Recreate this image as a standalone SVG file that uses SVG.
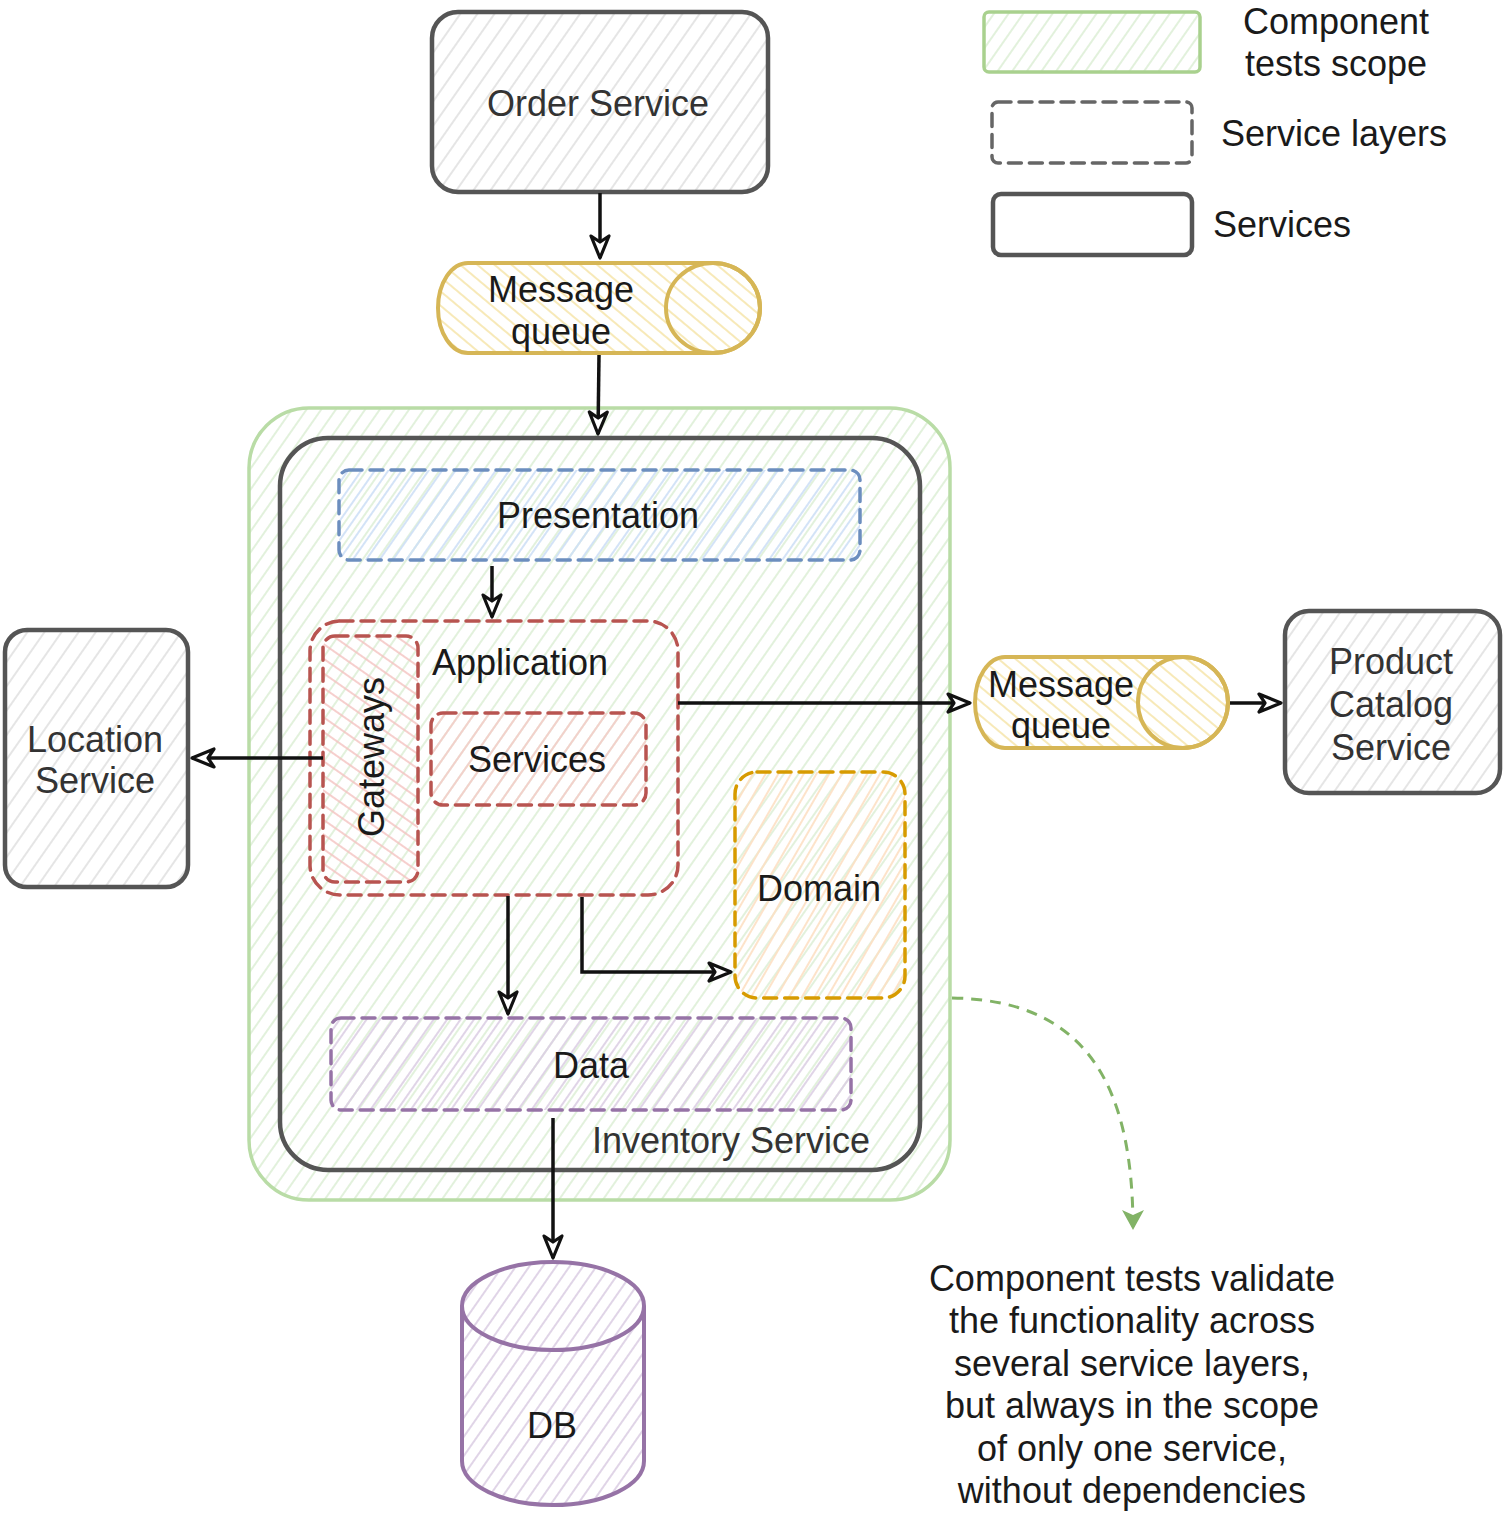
<svg xmlns="http://www.w3.org/2000/svg" width="1504" height="1517" viewBox="0 0 1504 1517">
<style>
text{font-family:"Liberation Sans",Arial,Helvetica,sans-serif;font-size:36px;fill:#1a1a1a}
.c{text-anchor:middle}
.svc{fill:url(#hGray);stroke:#555;stroke-width:4.5;stroke-linejoin:round}
.svcT{fill:#333}
.mq{fill:url(#hYellow);stroke:#d6b656;stroke-width:4}
.dash{stroke-width:3.5;stroke-dasharray:13 8;stroke-linecap:round}
.conn{fill:none;stroke:#111;stroke-width:3.5;marker-end:url(#arr)}
</style>
<defs>
<pattern id="hGray" patternUnits="userSpaceOnUse" width="14" height="14" patternTransform="rotate(35)"><line x1="7" y1="0" x2="7" y2="14" stroke="#dadada" stroke-width="1.4"/></pattern>
<pattern id="hGreen" patternUnits="userSpaceOnUse" width="12" height="12" patternTransform="rotate(35)"><line x1="6" y1="0" x2="6" y2="12" stroke="#d8ecd1" stroke-width="1.5"/></pattern>
<pattern id="hYellow" patternUnits="userSpaceOnUse" width="11" height="11" patternTransform="rotate(-50)"><line x1="5" y1="0" x2="5" y2="11" stroke="#f7e7b0" stroke-width="1.8"/></pattern>
<pattern id="hBlue" patternUnits="userSpaceOnUse" width="11" height="11" patternTransform="rotate(35)"><line x1="5" y1="0" x2="5" y2="11" stroke="#cfe0f6" stroke-width="1.8"/></pattern>
<pattern id="hPink" patternUnits="userSpaceOnUse" width="12" height="12" patternTransform="rotate(35)"><line x1="6" y1="0" x2="6" y2="12" stroke="#f6c9c7" stroke-width="1.6"/></pattern>
<pattern id="hPink2" patternUnits="userSpaceOnUse" width="12" height="12" patternTransform="rotate(-55)"><line x1="6" y1="0" x2="6" y2="12" stroke="#f4c3c1" stroke-width="1.6"/></pattern>
<pattern id="hOrange" patternUnits="userSpaceOnUse" width="11" height="11" patternTransform="rotate(30)"><line x1="5" y1="0" x2="5" y2="11" stroke="#fde0c4" stroke-width="1.8"/></pattern>
<pattern id="hPurple" patternUnits="userSpaceOnUse" width="11" height="11" patternTransform="rotate(35)"><line x1="5" y1="0" x2="5" y2="11" stroke="#ddd0e5" stroke-width="1.8"/></pattern>
<marker id="arr" viewBox="0 0 28 24" refX="25" refY="12" markerWidth="28" markerHeight="24" markerUnits="userSpaceOnUse" orient="auto">
<path d="M3,3 L25,12 L3,21 L9,12 Z" fill="#fff" stroke="#111" stroke-width="3.2" stroke-linejoin="round"/>
</marker>
<marker id="arrG" viewBox="0 0 22 26" refX="20" refY="13" markerWidth="22" markerHeight="26" markerUnits="userSpaceOnUse" orient="auto">
<path d="M1,2 L21,13 L1,24 L6,13 Z" fill="#82b366"/>
</marker>
</defs>

<g id="component-scope">
<rect x="249" y="408" width="701" height="792" rx="60" fill="url(#hGreen)" stroke="#b9dca6" stroke-width="3.5"/>
</g>
<g id="inventory-service">
<rect x="280" y="438" width="640" height="732" rx="48" fill="none" stroke="#555" stroke-width="4.5"/>
<text x="870" y="1153" style="text-anchor:end" class="svcT">Inventory Service</text>
</g>

<g id="order-service">
<rect x="432" y="12" width="336" height="180" rx="26" class="svc"/>
<text x="598" y="116" class="c svcT">Order Service</text>
</g>

<g id="message-queue-1">
<path d="M713 263 L468 263 A30 45 0 0 0 468 353 L713 353 A47 45 0 0 0 713 263 Z" class="mq"/>
<ellipse cx="713" cy="308" rx="47" ry="45" fill="none" stroke="#d6b656" stroke-width="4"/>
<text x="561" y="302" class="c">Message</text>
<text x="561" y="344" class="c">queue</text>
</g>

<g id="presentation">
<rect x="339" y="470" width="521" height="90" rx="10" fill="url(#hBlue)" stroke="#6c8ebf" class="dash"/>
<text x="598" y="528" class="c">Presentation</text>
</g>

<g id="application">
<rect x="310" y="621" width="368" height="274" rx="30" fill="none" stroke="#b85450" class="dash"/>
<text x="432" y="675">Application</text>
</g>

<g id="gateways">
<rect x="323" y="636" width="95" height="246" rx="12" fill="url(#hPink2)" stroke="#b85450" class="dash"/>
<text transform="translate(384,757) rotate(-90)" class="c">Gateways</text>
</g>

<g id="services-layer">
<rect x="431" y="713" width="215" height="92" rx="12" fill="url(#hPink)" stroke="#b85450" class="dash"/>
<text x="537" y="772" class="c">Services</text>
</g>

<g id="domain">
<rect x="735" y="772" width="170" height="226" rx="22" fill="url(#hOrange)" stroke="#d79b00" class="dash"/>
<text x="819" y="901" class="c">Domain</text>
</g>

<g id="data">
<rect x="331" y="1018" width="520" height="92" rx="10" fill="url(#hPurple)" stroke="#9673a6" class="dash"/>
<text x="591" y="1078" class="c">Data</text>
</g>

<g id="location-service">
<rect x="5" y="630" width="183" height="257" rx="22" class="svc"/>
<text x="95" y="752" class="c svcT">Location</text>
<text x="95" y="793" class="c svcT">Service</text>
</g>

<g id="message-queue-2">
<path d="M1183 657 L1005 657 A30 45.5 0 0 0 1005 748 L1183 748 A45 45.5 0 0 0 1183 657 Z" class="mq"/>
<ellipse cx="1183" cy="702.5" rx="45" ry="45.5" fill="none" stroke="#d6b656" stroke-width="4"/>
<text x="1061" y="697" class="c">Message</text>
<text x="1061" y="738" class="c">queue</text>
</g>

<g id="product-catalog-service">
<rect x="1285" y="611" width="215" height="182" rx="24" class="svc"/>
<text x="1391" y="674" class="c svcT">Product</text>
<text x="1391" y="717" class="c svcT">Catalog</text>
<text x="1391" y="760" class="c svcT">Service</text>
</g>

<g id="db">
<path d="M462 1306 L462 1461 A91 44 0 0 0 644 1461 L644 1306 A91 44 0 0 0 462 1306 Z" fill="url(#hPurple)" stroke="#9673a6" stroke-width="4"/>
<path d="M462 1306 A91 44 0 0 0 644 1306" fill="none" stroke="#9673a6" stroke-width="4"/>
<text x="552" y="1438" class="c">DB</text>
</g>

<g id="note">
<text x="1132" y="1291" class="c">Component tests validate</text>
<text x="1132" y="1333" class="c">the functionality across</text>
<text x="1132" y="1376" class="c">several service layers,</text>
<text x="1132" y="1418" class="c">but always in the scope</text>
<text x="1132" y="1461" class="c">of only one service,</text>
<text x="1132" y="1503" class="c">without dependencies</text>
</g>

<g id="legend">
<g id="legend-scope">
<rect x="984" y="12" width="216" height="60" rx="5" fill="url(#hGreen)" stroke="#a9d18e" stroke-width="3.5"/>
<text x="1336" y="34" class="c">Component</text>
<text x="1336" y="76" class="c">tests scope</text>
</g>
<g id="legend-layers">
<rect x="992" y="102" width="200" height="61" rx="6" fill="none" stroke="#666" class="dash"/>
<text x="1221" y="146">Service layers</text>
</g>
<g id="legend-services">
<rect x="993" y="194" width="199" height="61" rx="8" fill="none" stroke="#555" stroke-width="4.5"/>
<text x="1213" y="237">Services</text>
</g>
</g>

<g id="connectors">
<path d="M600 193 L600 258" class="conn"/>
<path d="M599 355 L598 434" class="conn"/>
<path d="M492 566 L492 617" class="conn"/>
<path d="M678 703 L970 703" class="conn"/>
<path d="M323 758 L192 758" class="conn"/>
<path d="M1230 703 L1281 703" class="conn"/>
<path d="M508 896 L508 1014" class="conn"/>
<path d="M582 897 L582 972 L731 972" class="conn"/>
<path d="M553 1118 L553 1258" class="conn"/>
<path d="M952 998 C1090 1000 1133 1090 1133 1229" fill="none" stroke="#82b366" stroke-width="3" stroke-dasharray="11 8" marker-end="url(#arrG)"/>
</g>
</svg>
